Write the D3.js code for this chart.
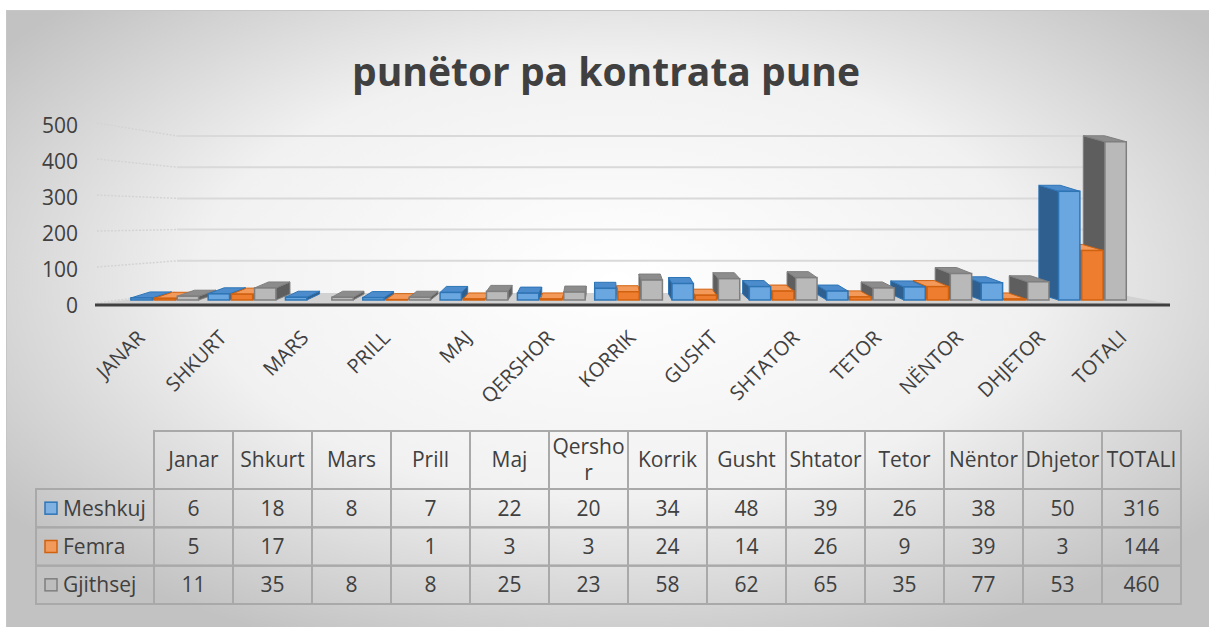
<!DOCTYPE html>
<html>
<head>
<meta charset="utf-8">
<script src="https://cdn.jsdelivr.net/npm/d3@7"></script>
<style>
  body { margin: 0; background: #fff; }
  svg { display: block; }
  text { font-family: 'Open Sans', sans-serif; fill: #404040; }
</style>
</head>
<body>
<svg id="chart" width="1209" height="627"></svg>
<script>
const months = ['Janar', 'Shkurt', 'Mars', 'Prill', 'Maj', 'Qershor', 'Korrik',
  'Gusht', 'Shtator', 'Tetor', 'Nëntor', 'Dhjetor', 'TOTALI'];
const seriesNames = ['Meshkuj', 'Femra', 'Gjithsej'];
const meshkuj = [6, 18, 8, 7, 22, 20, 34, 48, 39, 26, 38, 50, 316];
const femra = [5, 17, null, 1, 3, 3, 24, 14, 26, 9, 39, 3, 144];
const gjithsej = [11, 35, 8, 8, 25, 23, 58, 62, 65, 35, 77, 53, 460];
const yTicks = [0, 100, 200, 300, 400, 500];
const title = 'punëtor pa kontrata pune';

const seriesValues = [meshkuj, femra, gjithsej];
const colors = {
  Meshkuj: { front: '#6aa6df', side: '#2f5f8e', top: '#4d8ccc', stroke: '#2e75b6', key: '#7fb2e2' },
  Femra: { front: '#ef7d2f', side: '#b8560f', top: '#f39a5a', stroke: '#d0610f', key: '#f19a5c' },
  Gjithsej: { front: '#b9b9b9', side: '#5e5e5e', top: '#8c8c8c', stroke: '#7f7f7f', key: '#bdbdbd' },
};

const svg = d3.select('#chart');
const defs = svg.append('defs');

// Background
const bg = defs.append('radialGradient')
  .attr('id', 'bg')
  .attr('cx', '50%').attr('cy', '42%').attr('r', '62%');
bg.append('stop').attr('offset', '0%').attr('stop-color', '#ffffff');
bg.append('stop').attr('offset', '55%').attr('stop-color', '#f1f1f1');
bg.append('stop').attr('offset', '100%').attr('stop-color', '#c2c2c2');

svg.append('rect')
  .attr('x', 6.5).attr('y', 10.5)
  .attr('width', 1220).attr('height', 640)
  .attr('fill', 'url(#bg)')
  .attr('stroke', '#c6c6c6');

// Title
svg.append('text')
  .attr('x', 606).attr('y', 86)
  .attr('text-anchor', 'middle')
  .attr('font-size', 39)
  .attr('font-weight', 700)
  .text(title);

// Scales
const x0 = d3.scaleBand().domain(months).range([127, 1132]).paddingInner(0.1).paddingOuter(0.05);
const x1 = d3.scaleBand().domain(seriesNames).range([0, x0.bandwidth()]);
const yBar = d3.scaleLinear().domain([0, 500]).range([300, 128]);
const yLabel = d3.scaleLinear().domain([0, 500]).range([306, 126]);
const yWall = d3.scaleLinear().domain([0, 500]).range([292, 136]);
const xLabel = d3.scalePoint().domain(months).range([146, 1128]);

const wallLeft = 177, wallRight = 1092;
const floorLeft = 95, floorRight = 1170;
const vp = 600;

// Gridlines: side wall (dotted) + back wall
const grid = svg.append('g');
grid.selectAll('line.side')
  .data(yTicks)
  .join('line')
  .attr('class', 'side')
  .attr('x1', 97).attr('y1', (d) => yLabel(d) - 3)
  .attr('x2', wallLeft).attr('y2', (d) => yWall(d))
  .attr('stroke', '#d4d4d4')
  .attr('stroke-width', 1.5)
  .attr('stroke-dasharray', '2,1.5');
grid.selectAll('line.back')
  .data(yTicks.slice(1))
  .join('line')
  .attr('class', 'back')
  .attr('x1', wallLeft).attr('y1', (d) => yWall(d))
  .attr('x2', wallRight).attr('y2', (d) => yWall(d))
  .attr('stroke', '#d9d9d9')
  .attr('stroke-width', 2);

// Floor
svg.append('path')
  .attr('d', `M${floorLeft},304 L${floorRight},304 L${wallRight + 20},293 L${wallLeft},293 Z`)
  .attr('fill', '#d2d2d2');

// Y axis labels
svg.append('g')
  .selectAll('text')
  .data(yTicks)
  .join('text')
  .attr('x', 78)
  .attr('y', (d) => yLabel(d))
  .attr('dy', '0.35em')
  .attr('text-anchor', 'end')
  .attr('font-size', 21)
  .text((d) => d);

// Bars (pseudo 3-D)
const bars = [];
months.forEach((m, i) => {
  seriesNames.forEach((s, j) => {
    const v = seriesValues[j][i];
    if (v == null || v === 0) return;
    const w = x1.bandwidth() * 0.92;
    const fx = x0(m) + x1(s);
    bars.push({ m, s, v, fx, w, cx: fx + w / 2 });
  });
});
bars.sort((a, b) => Math.abs(b.cx - vp) - Math.abs(a.cx - vp));

const depthK = 0.042, depthY = -6;
const barG = svg.append('g');
bars.forEach((d) => {
  const c = colors[d.s];
  const dx = depthK * (vp - d.cx);
  const dy = depthY;
  const yt = yBar(d.v), yb = yBar(0);
  const g = barG.append('g');
  const pts = (arr) => arr.map((p) => p.join(',')).join(' ');
  // side
  const sx = dx > 0 ? d.fx + d.w : d.fx;
  g.append('polygon')
    .attr('points', pts([[sx, yt], [sx + dx, yt + dy], [sx + dx, yb + dy], [sx, yb]]))
    .attr('fill', c.side)
    .attr('stroke', c.stroke)
    .attr('stroke-width', 1);
  // top
  g.append('polygon')
    .attr('points', pts([[d.fx, yt], [d.fx + d.w, yt], [d.fx + d.w + dx, yt + dy], [d.fx + dx, yt + dy]]))
    .attr('fill', c.top)
    .attr('stroke', c.stroke)
    .attr('stroke-width', 1);
  // front
  g.append('rect')
    .attr('x', d.fx).attr('y', yt)
    .attr('width', d.w).attr('height', yb - yt)
    .attr('fill', c.front)
    .attr('stroke', c.stroke)
    .attr('stroke-width', 1.5);
});

// Floor front edge
svg.append('line')
  .attr('x1', floorLeft).attr('y1', 305)
  .attr('x2', floorRight).attr('y2', 305)
  .attr('stroke', '#404040')
  .attr('stroke-width', 3);

// Category labels
svg.append('g')
  .selectAll('text')
  .data(months)
  .join('text')
  .attr('transform', (d) => `translate(${xLabel(d)},339) rotate(-45)`)
  .attr('text-anchor', 'end')
  .attr('font-size', 20)
  .text((d) => d.toUpperCase());

// Data table
const colX = d3.scaleBand().domain(months).range([154, 1181]);
const rowY = d3.scaleBand().domain(seriesNames).range([489, 604]);
const headTop = 431, labelLeft = 36;
const table = svg.append('g');
const border = { stroke: '#a9a9a9', width: 2 };

table.selectAll('rect.head')
  .data(months)
  .join('rect')
  .attr('class', 'head')
  .attr('x', (d) => colX(d)).attr('y', headTop)
  .attr('width', colX.bandwidth()).attr('height', rowY.range()[0] - headTop)
  .attr('fill', 'none')
  .attr('stroke', border.stroke).attr('stroke-width', border.width);

function wrapChars(textSel, str, maxW, cx, cy, lineH) {
  textSel.text(str);
  if (textSel.node().getComputedTextLength() <= maxW) {
    textSel.attr('x', cx).attr('y', cy).attr('dy', '0.35em');
    return;
  }
  const lines = [];
  let cur = '';
  textSel.text('');
  for (const ch of str) {
    textSel.text(cur + ch);
    if (textSel.node().getComputedTextLength() > maxW && cur) {
      lines.push(cur);
      cur = ch;
    } else {
      cur += ch;
    }
  }
  lines.push(cur);
  textSel.text(null);
  const y0 = cy - ((lines.length - 1) * lineH) / 2;
  lines.forEach((ln, k) => {
    textSel.append('tspan')
      .attr('x', cx).attr('y', y0 + k * lineH)
      .attr('dy', '0.35em')
      .text(ln);
  });
}

months.forEach((m) => {
  const t = table.append('text')
    .attr('text-anchor', 'middle')
    .attr('font-size', 21);
  wrapChars(t, m, colX.bandwidth() - 4, colX(m) + colX.bandwidth() / 2, (headTop + rowY.range()[0]) / 2, 26);
});

seriesNames.forEach((s, j) => {
  const y = rowY(s), h = rowY.bandwidth();
  table.append('rect')
    .attr('x', labelLeft).attr('y', y)
    .attr('width', colX.range()[0] - labelLeft).attr('height', h)
    .attr('fill', 'none')
    .attr('stroke', border.stroke).attr('stroke-width', border.width);
  table.append('rect')
    .attr('x', 45).attr('y', y + h / 2 - 6)
    .attr('width', 12).attr('height', 12)
    .attr('fill', colors[s].key)
    .attr('stroke', colors[s].stroke)
    .attr('stroke-width', 1.5);
  table.append('text')
    .attr('x', 63).attr('y', y + h / 2)
    .attr('dy', '0.35em')
    .attr('font-size', 21)
    .text(s);

  table.selectAll(null)
    .data(months)
    .join('rect')
    .attr('x', (d) => colX(d)).attr('y', y)
    .attr('width', colX.bandwidth()).attr('height', h)
    .attr('fill', 'none')
    .attr('stroke', border.stroke).attr('stroke-width', border.width);
  table.selectAll(null)
    .data(months)
    .join('text')
    .attr('x', (d) => colX(d) + colX.bandwidth() / 2)
    .attr('y', y + h / 2)
    .attr('dy', '0.35em')
    .attr('text-anchor', 'middle')
    .attr('font-size', 21)
    .text((d, i) => (seriesValues[j][i] == null ? '' : seriesValues[j][i]));
});
</script>
</body>
</html>
